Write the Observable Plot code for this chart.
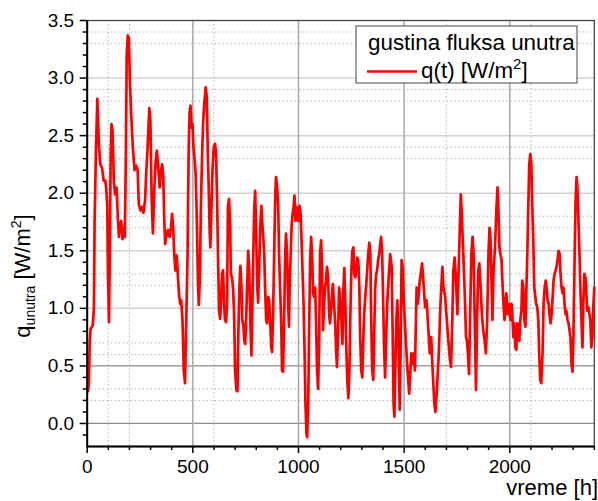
<!DOCTYPE html>
<html><head><meta charset="utf-8">
<script src="https://cdn.jsdelivr.net/npm/d3@7"></script>
<script src="https://cdn.jsdelivr.net/npm/@observablehq/plot@0.6"></script>
<style>body{margin:0;background:#fff;} #chart{position:relative;width:598px;height:501px;}</style>
</head><body><div id="chart"></div>
<script>
// time [h]
const hours = [0,4,8,12,16,26,32,35,41,48,51,56,62,70,78,85,90,95,98,103,107,111,115,120,126,132,139,145,150,156,161,167,173,178,183,187,192,197,202,208,216,224,231,239,244,252,260,266,274,280,286,294,299,305,311,318,324,330,337,343,349,355,360,365,369,376,382,390,396,402,407,412,417,423,428,434,440,445,451,457,463,
475,480,484,489,494,498,503,509,514,519,524,528,533,538,544,549,555,561,566,571,575,580,583,588,593,599,605,610,615,619,624,629,633,638,643,648,652,657,662,666,671,676,680,685,690,695,700,706,711,715,720,725,730,734,739,744,748,753,758,762,767,772,777,781,786,791,795,800,805,809,814,819,824,828,833,838,842,847,852,857,861,866,871,875,880,885,890,894,899,904,908,913,918,922,927,932,937,941,946,951,955,
958,963,967,972,977,981,986,991,996,1000,1005,1010,1014,1019,1024,1029,1033,1038,1041,1046,1050,1055,1060,1065,1069,1074,1079,1083,1088,1093,1098,1102,1107,1112,1116,1121,1126,1130,1135,1140,1145,1149,1154,1159,1163,1168,1173,1178,1182,1187,1192,1196,1203,1208,1212,1217,1222,1227,1231,1236,1241,1245,1250,1255,1260,1264,1269,1274,1278,1283,1288,1292,1297,1302,1307,1311,1316,1321,1325,1330,1335,1340,1344,1349,1354,1358,1363,1368,1372,1377,1382,1387,1391,1396,1401,1405,1410,1415,1420,1424,1429,1434,
1441,1446,1450,1454,1458,1463,1468,1474,1479,1483,1488,1493,1499,1507,1515,1524,1534,1540,1546,1551,1559,1565,1574,1585,1593,1599,1606,1617,1621,1628,1635,1643,1648,1656,1664,1672,1681,1686,1694,1702,1708,1717,1722,1728,1733,1739,1744,1752,1760,1768,1772,1780,1786,1793,1797,1802,1807,1812,1818,1824,1829,1834,1840,1845,1851,1856,1862,1868,1874,1881,1887,1893,1899,1904,1909,1914,
1918,1923,1928,1932,1937,1942,1946,1951,1956,1961,1965,1970,1975,1979,1984,1989,1994,1998,2003,2008,2012,2017,2022,2026,2031,2036,2041,2045,2050,2055,2059,2064,2069,2074,2078,2083,2088,2092,2097,2102,2106,2111,2116,2121,2125,2130,2135,2139,2144,2149,2155,2160,2165,2170,2174,2179,2184,2188,2193,2198,2203,2207,2212,2217,2221,2226,2231,2236,2240,2245,2250,2254,2259,2264,2268,2273,2278,2283,2287,2292,2297,2301,2306,2311,2316,2320,2325,2330,2334,2339,2344,2348,2353,2358,2363,2367,2372,2377,2381,2386,2391,2396,2400];
// heat flux q(t) [W/m2]
const q = [0.32,0.28,0.36,0.71,0.82,0.85,1.01,1.75,2.34,2.82,2.66,2.40,2.25,2.22,2.11,2.11,2.05,1.88,1.33,0.88,1.47,2.34,2.60,2.54,2.11,1.99,2.05,1.79,1.62,1.73,1.76,1.60,1.70,1.62,2.34,3.21,3.37,3.35,2.98,2.69,2.40,2.20,2.24,2.20,1.91,1.85,1.88,1.83,1.94,2.20,2.40,2.74,2.63,1.96,1.65,2.05,2.28,2.37,2.20,2.05,2.20,2.25,2.14,1.76,1.56,1.65,1.68,1.62,1.70,1.82,1.70,1.47,1.33,1.46,1.33,1.13,1.04,1.07,0.90,0.46,0.35,
1.47,2.34,2.69,2.76,2.57,2.60,2.40,2.28,2.14,1.76,1.24,1.03,1.24,1.88,2.34,2.63,2.80,2.92,2.83,2.34,2.05,1.65,1.53,1.88,2.20,2.40,2.43,2.34,1.91,1.47,0.98,0.91,1.04,1.30,1.33,1.04,0.90,0.88,1.04,1.88,1.95,1.76,1.30,1.27,1.18,0.98,0.46,0.29,0.28,0.75,1.18,1.37,1.18,0.90,0.85,0.72,0.69,0.95,1.27,1.50,1.33,0.90,0.59,0.95,1.47,1.88,2.02,1.62,1.18,1.05,1.36,1.70,1.89,1.76,1.62,1.47,1.18,0.90,0.87,1.10,1.07,0.90,0.66,0.62,0.98,1.47,1.99,2.14,2.05,1.88,1.47,1.18,0.90,0.46,0.45,0.90,1.47,1.65,1.47,1.04,0.84,
1.18,1.47,1.70,1.82,1.88,1.98,1.76,1.88,1.79,1.76,1.89,1.82,1.62,1.33,1.04,0.61,0.17,-0.09,-0.12,0.17,0.75,1.42,1.62,1.42,1.13,1.10,1.18,0.90,0.46,0.30,0.75,1.47,1.59,1.33,0.81,1.04,1.18,1.24,1.36,1.27,0.95,0.87,0.98,1.13,1.21,1.04,0.90,0.64,0.49,0.75,1.18,1.13,0.90,0.69,1.15,1.35,1.00,0.61,0.38,0.22,0.46,0.90,1.33,1.50,1.53,1.30,1.27,1.36,1.44,1.42,1.18,0.75,0.46,0.40,0.75,0.95,1.10,1.21,1.33,1.47,1.57,1.47,0.90,0.46,0.38,0.75,1.18,1.30,1.33,1.42,1.47,1.56,1.62,1.47,1.04,0.66,0.40,0.75,1.04,1.18,1.33,1.47,
1.36,0.75,0.17,0.06,0.46,0.90,1.07,0.61,0.12,0.61,1.42,1.36,1.04,0.75,0.49,0.26,0.61,0.52,0.61,0.46,1.18,1.04,1.24,1.39,1.18,1.01,1.07,0.75,0.61,0.75,0.46,0.17,0.10,0.32,0.61,1.04,1.36,1.18,1.10,0.90,0.75,0.55,0.49,0.90,1.33,1.44,1.30,0.95,1.47,1.99,1.85,1.47,1.18,0.75,0.72,0.61,0.43,0.90,1.47,1.62,1.47,0.90,0.29,0.90,1.33,1.39,1.18,0.95,0.81,0.72,0.61,0.90,1.47,1.70,1.59,1.18,
0.90,1.33,1.47,1.62,1.88,2.05,1.88,1.53,1.47,1.42,1.24,1.04,0.90,1.04,1.13,0.95,1.04,0.98,0.90,1.04,0.95,0.75,0.87,0.66,0.64,0.87,0.78,0.72,0.90,0.98,1.24,1.18,0.90,0.84,1.13,1.47,1.91,2.25,2.34,2.25,1.91,1.62,1.18,1.10,1.04,1.01,0.90,0.61,0.38,0.35,0.61,1.04,1.18,1.24,1.18,1.07,1.04,0.95,0.87,0.95,1.10,1.24,1.30,1.33,1.36,1.42,1.50,1.47,1.30,1.18,1.13,1.18,1.04,0.95,0.98,0.90,0.87,0.81,0.75,0.52,0.45,0.75,1.33,1.91,2.14,2.05,1.76,1.47,1.18,0.90,0.66,1.04,1.30,1.27,1.10,0.98,1.01,0.95,0.90,0.66,0.75,1.04,1.18];

const xTicks = [0, 500, 1000, 1500, 2000];
const xMinorTicks = [100,200,300,400,600,700,800,900,1100,1200,1300,1400,1600,1700,1800,1900,2100,2200,2300,2400];
const yTicks = [0, 0.5, 1, 1.5, 2, 2.5, 3, 3.5];
const yMinorTicks = [-0.1,0.1,0.2,0.3,0.4,0.6,0.7,0.8,0.9,1.1,1.2,1.3,1.4,1.6,1.7,1.8,1.9,2.1,2.2,2.3,2.4,2.6,2.7,2.8,2.9,3.1,3.2,3.3,3.4];
const xMinorGrid = [100, 200, 600, 1700, 2100];
const yMinorGrid = [0.2,0.3,0.6,0.7,1.2,1.3,1.7,1.8,2.3,2.4,2.8,2.9,3.3,3.4];
const yGridLight = [1, 1.5, 2, 2.5, 3];
const yGridDark = [0, 0.5];
const xGridMajor = [500, 1000, 1500, 2000];
const xLabel = "vreme [h]";
const yLabelMain = "q", yLabelSub = "unutra", yLabelUnit = " [W/m", yLabelSup = "2", yLabelEnd = "]";
const legendTitle = "gustina fluksa unutra";
const seriesLabel = "q(t) [W/m", seriesSup = "2", seriesEnd = "]";

const data = hours.map((h, i) => ({h, q: q[i]}));
const fmtY = d3.format(".1f");
const fmtX = d3.format("d");
const FONT = "'Liberation Sans', Arial, Helvetica, sans-serif";

const svg = Plot.plot({
  width: 598, height: 501,
  marginLeft: 86.7, marginRight: 4.2, marginTop: 20, marginBottom: 55,
  style: {fontFamily: FONT, background: "#fff", color: "#000", overflow: "visible"},
  x: {domain: [0, 2400]},
  y: {domain: [-0.2, 3.5]},
  marks: [
    Plot.gridY(yMinorGrid, {stroke: "#b4b4b4", strokeOpacity: 1, strokeWidth: 1, strokeDasharray: "1.5,2.5"}),
    Plot.gridX(xMinorGrid, {stroke: "#b4b4b4", strokeOpacity: 1, strokeWidth: 1, strokeDasharray: "1.5,2.5"}),
    Plot.gridY(yGridLight, {stroke: "#d2d2d2", strokeOpacity: 1, strokeWidth: 1.5}),
    Plot.gridY(yGridDark, {stroke: "#8c8c8c", strokeOpacity: 1, strokeWidth: 1.3}),
    Plot.gridX(xGridMajor, {stroke: "#a8a8a8", strokeOpacity: 1, strokeWidth: 1.5}),
    Plot.frame({stroke: "#444", strokeWidth: 1.3}),
    Plot.line(data, {x: "h", y: "q", stroke: "#ff0000", strokeWidth: 2.7, strokeLinejoin: "round"}),
    Plot.ruleX([0], {stroke: "#000", strokeWidth: 2}),
    Plot.ruleY([-0.2], {stroke: "#000", strokeWidth: 2}),
    Plot.axisX(xTicks, {tickSize: 7, tickPadding: 6, fontSize: 19, tickFormat: fmtX, label: null, color: "#000", strokeWidth: 1.5}),
    Plot.axisX(xMinorTicks, {tickSize: 4, tickFormat: () => "", label: null, color: "#000", strokeWidth: 1.5}),
    Plot.axisY(yTicks, {tickSize: 7, tickPadding: 6, fontSize: 19, tickFormat: fmtY, label: null, color: "#000", strokeWidth: 1.5}),
    Plot.axisY(yMinorTicks, {tickSize: 4, tickFormat: () => "", label: null, color: "#000", strokeWidth: 1.5})
  ]
});
document.getElementById("chart").appendChild(svg);

const s = d3.select(svg);
// y axis title
const yl = s.append("text")
  .attr("transform", "translate(30,276) rotate(-90)")
  .attr("text-anchor", "middle").attr("font-size", 22).attr("fill", "#000");
yl.append("tspan").text(yLabelMain);
yl.append("tspan").attr("font-size", 14).attr("dy", 5).text(yLabelSub);
yl.append("tspan").attr("dy", -5).text(yLabelUnit);
yl.append("tspan").attr("font-size", 14).attr("dy", -9).text(yLabelSup);
yl.append("tspan").attr("dy", 9).text(yLabelEnd);
// x axis title
s.append("text").attr("x", 598).attr("y", 495).attr("text-anchor", "end")
  .attr("font-size", 22).attr("fill", "#000").text(xLabel);
// legend
const lg = s.append("g").attr("text-anchor", "start");
lg.append("rect").attr("x", 356).attr("y", 26).attr("width", 221).attr("height", 57)
  .attr("fill", "#fff").attr("stroke", "#444").attr("stroke-width", 1);
lg.append("text").attr("x", 368).attr("y", 50).attr("text-anchor", "start").attr("font-size", 22.4).attr("fill", "#000").text(legendTitle);
lg.append("line").attr("x1", 367).attr("x2", 417).attr("y1", 71.5).attr("y2", 71.5)
  .attr("stroke", "#ff0000").attr("stroke-width", 2.7);
const lt = lg.append("text").attr("x", 421).attr("y", 78).attr("text-anchor", "start").attr("font-size", 22.4).attr("fill", "#000");
lt.append("tspan").text(seriesLabel);
lt.append("tspan").attr("font-size", 15).attr("dy", -9).text(seriesSup);
lt.append("tspan").attr("dy", 9).text(seriesEnd);
</script>
</body></html>
